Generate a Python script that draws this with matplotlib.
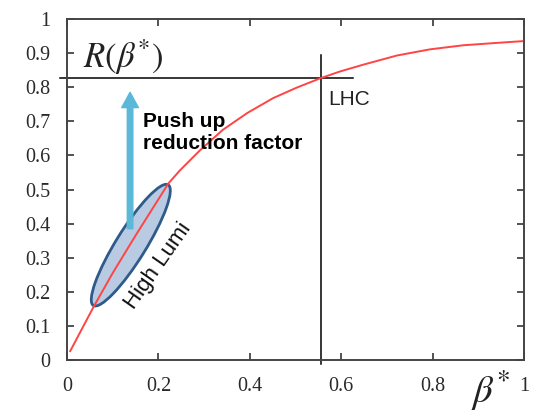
import matplotlib
matplotlib.use('Agg')
import matplotlib.pyplot as plt
import matplotlib.transforms as mtransforms
from matplotlib.patches import Ellipse, FancyArrowPatch
from matplotlib.ticker import FuncFormatter

# reduction factor curve
BETA = [0.007, 0.057, 0.10, 0.15, 0.222, 0.247, 0.291, 0.341, 0.394, 0.451, 0.503, 0.554,
        0.597, 0.648, 0.722, 0.794, 0.867, 0.941, 0.996]
R_VALUES = [0.026, 0.153, 0.255, 0.365, 0.518, 0.556, 0.615, 0.675, 0.724, 0.768, 0.799, 0.826,
            0.846, 0.866, 0.893, 0.911, 0.923, 0.930, 0.935]

LHC_BETA = 0.556
LHC_R = 0.826

X_TICKS = [0, 0.2, 0.4, 0.6, 0.8, 1.0]
Y_TICKS = [0, 0.1, 0.2, 0.3, 0.4, 0.5, 0.6, 0.7, 0.8, 0.9, 1.0]

plt.rcParams['mathtext.fontset'] = 'stix'

def FormatTick(v, pos):
    if abs(v) < 1e-9:
        return '0'
    if abs(v - 1) < 1e-9:
        return '1'
    return f'{v:.1f}'

def main():
    fig = plt.figure(figsize=(5.39, 4.17), dpi=100)
    ax = fig.add_axes([0.1243, 0.1367, 0.8479, 0.8177])
    ax.set_xlim(0, 1)
    ax.set_ylim(0, 1)

    # curve
    ax.plot(BETA, R_VALUES, color='#ff4444', lw=1.4, zorder=3)

    # LHC cross lines
    ax.plot([-0.015, 0.626], [LHC_R, LHC_R], color='black', lw=1.1, clip_on=False, zorder=2)
    ax.plot([LHC_BETA, LHC_BETA], [-0.012, 0.894], color='black', lw=1.1, clip_on=False, zorder=2)

    # High Lumi ellipse (size in inches, centred in data coords)
    trans = fig.dpi_scale_trans + mtransforms.ScaledTranslation(0.1396, 0.3368, ax.transData)
    ell = Ellipse((0, 0), 1.42, 0.30, angle=58.2, transform=trans,
                  facecolor='#b9cbe3', edgecolor='#2f5b8a', lw=2.0, zorder=2)
    ax.add_patch(ell)

    # arrow
    arrow = FancyArrowPatch((0.138, 0.385), (0.138, 0.785),
                            arrowstyle='simple,head_width=1.2,head_length=1.1,tail_width=0.4',
                            mutation_scale=10, color='#5bb8d9', shrinkA=0, shrinkB=0, zorder=4)
    ax.add_patch(arrow)

    ax.text(0.166, 0.726, 'Push up\nreduction factor', ha='left', va='top',
            fontsize=15, fontweight='bold', family=['Liberation Sans', 'DejaVu Sans'],
            linespacing=1.2, zorder=5)
    ax.text(0.571, 0.791, 'LHC', ha='left', va='top', fontsize=15,
            family=['Liberation Sans', 'DejaVu Sans'], color='#222222')
    ax.text(0.20, 0.276, 'High Lumi', ha='center', va='center', rotation=55,
            fontsize=16, family=['Liberation Sans', 'DejaVu Sans'], color='#111111')

    ax.text(0.035, 0.888, r'$R(\beta^{*})$', ha='left', va='center', fontsize=25, color='#222222')
    ax.text(0.926, -0.091, r'$\beta^{*}$', ha='center', va='center', fontsize=28,
            color='#222222', clip_on=False)

    # axes styling
    for s in ax.spines.values():
        s.set_color('#444444')
        s.set_linewidth(1.4)
    ax.set_xticks(X_TICKS)
    ax.set_yticks(Y_TICKS)
    ax.xaxis.set_major_formatter(FuncFormatter(FormatTick))
    ax.yaxis.set_major_formatter(FuncFormatter(FormatTick))
    ax.tick_params(direction='in', length=5, width=1.3, color='#444444',
                   top=True, right=True, labelsize=14.5, labelcolor='#2a2a2a', pad=12)
    for lbl in ax.get_xticklabels() + ax.get_yticklabels():
        lbl.set_family(['Liberation Serif', 'DejaVu Serif'])

    fig.savefig('out.png', dpi=100)

if __name__ == '__main__':
    main()
